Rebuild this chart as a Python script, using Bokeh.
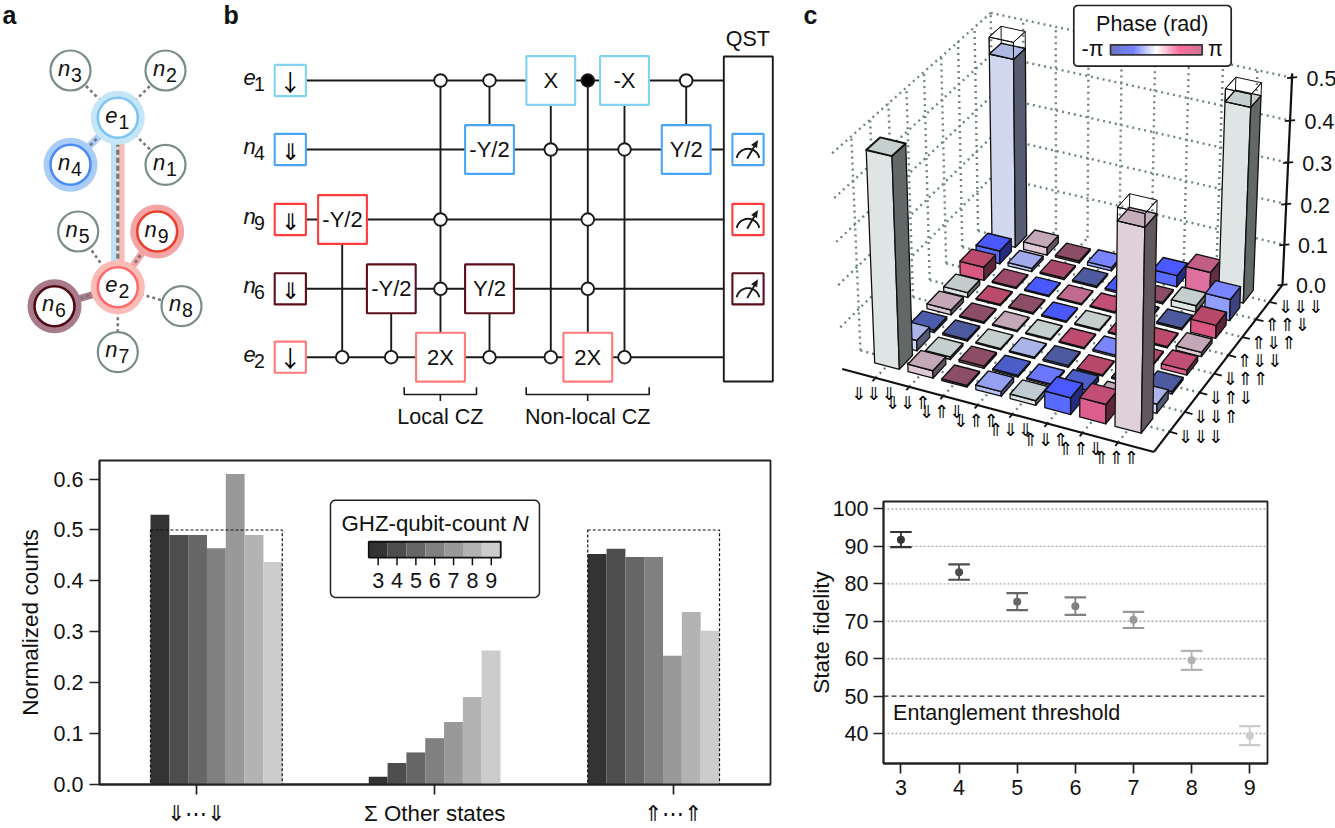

import numpy as np
from bokeh.embed import file_html
from bokeh.resources import INLINE
from bokeh.plotting import figure
from bokeh.layouts import row, column
from bokeh.models import ColumnDataSource, FixedTicker, Range1d
from bokeh.core.properties import value

FONT = "Liberation Sans"
ARROW_FONT = "Noto Sans CJK SC"
STATE_FONT = "DejaVu Sans"
# ---------------- data ----------------
N_VALUES = [3, 4, 5, 6, 7, 8, 9]
GRAYS = ["#333333", "#4d4d4d", "#666666", "#808080", "#999999", "#b3b3b3", "#cccccc"]
COUNTS_DOWN = [0.53, 0.49, 0.49, 0.464, 0.61, 0.49, 0.437]
COUNTS_OTHER = [0.015, 0.042, 0.063, 0.091, 0.123, 0.172, 0.263]
COUNTS_UP = [0.453, 0.463, 0.447, 0.447, 0.253, 0.339, 0.302]
COUNT_LABELS = {0: "⇓⋯⇓", 1: "Σ Other states", 2: "⇑⋯⇑"}
GROUP_LEFT = [-0.193, 0.723, 1.642]
BAR_W = 0.0790

FIDELITY = [91.8, 83.1, 75.2, 74.0, 70.4, 59.6, 39.4]
FID_HI = [93.85, 85.2, 77.5, 76.4, 72.5, 62.1, 42.0]
FID_LO = [89.8, 81.1, 73.0, 71.7, 68.2, 57.0, 36.9]
THRESHOLD = 50

# density matrix, row = back-axis index, column = front-axis index
RHO_H = [
 [.495,.018,.004,.011,.011,.040,.046,.470],
 [.025,.006,.005,.004,.004,.012,.005,.022],
 [.006,.004,.003,.003,.004,.003,.003,.006],
 [.012,.003,.003,.003,.003,.004,.003,.012],
 [.012,.003,.003,.003,.003,.003,.003,.010],
 [.033,.003,.003,.003,.003,.003,.004,.032],
 [.032,.008,.004,.004,.004,.004,.016,.052],
 [.460,.019,.005,.008,.004,.028,.056,.470],
]
RHO_PHASE = [
 [0.0, 1.0, 3.14,-0.9,-0.1,-1.9, 2.0, 0.9],
 [-.7, 0.0, 3.14,-2.4,-1.4,-2.4, 1.0,-0.7],
 [-2.9,-3.14,0.0,-0.7,-3.14,2.3,-3.14,-3.14],
 [1.0, 3.14,1.0, 0.0, 2.1,-1.2, 2.4, 2.0],
 [0.2, 2.2, 3.14,-1.9,0.0, 2.3, 2.2, 1.0],
 [2.2, 2.7,-1.9, 1.5, 2.0,-3.14,-3.14,2.3],
 [-1.9,-0.8,2.5,-3.14,-1.9,3.14,0.0,-1.2],
 [-0.6,1.0, 3.14,-1.2,2.2,-1.9, 1.7, 0.0],
]
IDEAL_H = {(0,7):.5,(7,0):.5,(7,7):.5}
X_STATES = ["⇓⇓⇓","⇓⇓⇑","⇓⇑⇓","⇓⇑⇑","⇑⇓⇓","⇑⇓⇑","⇑⇑⇓","⇑⇑⇑"]
Y_STATES = ["⇓⇓⇓","⇓⇓⇑","⇓⇑⇓","⇓⇑⇑","⇑⇓⇓","⇑⇓⇑","⇑⇑⇓","⇓⇓⇓"]
Z_TICKS = [0.0,0.1,0.2,0.3,0.4,0.5]
PH_ANCHORS = [-3.14,-2.4,-1.9,-1.2,-0.7,0,0.5,1.0,1.5,1.9,2.3,2.7,3.14]
PH_COLORS = ["#4e5aa0","#4c5cc8","#4a58ff","#7a84ff","#aab4e8","#c4cfce","#c4c4c8","#c4a8b8","#c06a90","#c45078","#b8486a","#9c4a6a","#8c4d66"]
BAR_CS = ["#5a66bc","#6472ff","#ffffff","#ff5c90","#c8648c"]

def rgb(h): return np.array([int(h[i:i+2],16) for i in (1,3,5)],float)
def hx(c): return "#%02x%02x%02x"%tuple(int(min(255,max(0,round(v)))) for v in c)
def ph_color(p):
    a=np.array([rgb(c) for c in PH_COLORS])
    return np.array([np.interp(p,PH_ANCHORS,a[:,k]) for k in range(3)])
def lighter(c): return np.where(c<180,c*1.2,c+(255-c)*.45)

def canvas(w,h,x0,y0):
    p=figure(width=w,height=h,x_range=Range1d(x0,x0+w),y_range=Range1d(y0+h,y0),
             x_axis_type=None,y_axis_type=None,toolbar_location=None,output_backend="svg",
             min_border=0,outline_line_color=None,frame_align=False)
    p.grid.visible=False
    return p
def T(p,x,y,s,size=21.5,italic=False,bold=False,align="center",font=FONT,color="#111111",angle=0):
    st="bold" if bold else ("italic" if italic else "normal")
    p.text([x],[y],text=[s],text_font=value(font),text_font_size=value(f"{size}px"),text_align=align,
           text_baseline="middle",text_font_style=st,text_color=color,angle=angle)
def rr(x0,y0,x1,y1,r=4):
    t=np.linspace(0,np.pi/2,6); xs=[];ys=[]
    for cx,cy,a in [(x1-r,y0+r,-np.pi/2),(x1-r,y1-r,0),(x0+r,y1-r,np.pi/2),(x0+r,y0+r,np.pi)]:
        xs+=list(cx+r*np.cos(t+a)); ys+=list(cy+r*np.sin(t+a))
    return xs,ys

# ================= panels a, b ==================
ab=canvas(800,438,0,0)
T(ab,2,14,"a",25,bold=True,align="left")
T(ab,223,14,"b",25,bold=True,align="left")
NODES={"n3":(70,70),"n2":(165,70),"n1":(165,164.3),"n4":(70,164.3),"n5":(77.7,231),"n9":(156.7,231),
       "n6":(54,305.7),"n8":(181,305.7),"n7":(117.3,351.7),"e1":(117.3,117.3),"e2":(117.3,286.7)}
HALO={"e1":("#c5e6f7","#7fc4f5"),"n4":("#a9cdf7","#4a8cf5"),"n9":("#f4a4a4","#e8402e"),"e2":("#fbbcb8","#ff6b6b"),"n6":("#a87a8c","#4d0b14")}
e1=NODES["e1"];e2=NODES["e2"]
ab.line([e1[0]-3.4]*2,[e1[1],e2[1]],line_color="#c0e0f5",line_width=6.8)
ab.line([e1[0]+3.4]*2,[e1[1],e2[1]],line_color="#f7bdb8",line_width=6.8)
for n,c,w in [("n4","#a9cdf7",7),("n9","#f4a4a4",7),("n6","#a87a8c",7)]:
    hub=e1 if n=="n4" else e2
    ab.line([hub[0],NODES[n][0]],[hub[1],NODES[n][1]],line_color=c,line_width=w)
ab.line([e1[0]]*2,[e1[1],e2[1]],line_color="#777777",line_width=3.2,line_dash="5 3")
for n,hub in [("n3",e1),("n2",e1),("n1",e1),("n4",e1),("n5",e2),("n9",e2),("n6",e2),("n8",e2),("n7",e2)]:
    ab.line([hub[0],NODES[n][0]],[hub[1],NODES[n][1]],line_color="#777777",line_width=2.6,line_dash="3 3")
for n,(x,y) in NODES.items():
    if n in HALO:
        ab.circle([x],[y],radius=27,fill_color=HALO[n][0],line_color=None)
        ab.circle([x],[y],radius=20,fill_color="white",line_color=HALO[n][1],line_width=2.6)
    else:
        ab.circle([x],[y],radius=20,fill_color="white",line_color="#7a8c88",line_width=2.2)
    T(ab,x-6.5,y-2.5,n[0],22,italic=True)
    T(ab,x+6,y+4,n[1],19.5)

WIRES={"e1":80,"n4":149,"n9":219,"n6":288.3,"e2":356.7}
WCOL={"e1":"#7fd4f0","n4":"#4aa5f5","n9":"#ff3b3b","n6":"#5c0f1c","e2":"#ff7a7a"}
INIT={"e1":"↓","n4":"⇓","n9":"⇓","n6":"⇓","e2":"↓"}
LW=1.9; K="#1a1a1a"
def vl(x,y0,y1): ab.line([x,x],[y0,y1],line_color=K,line_width=LW)
for w,y in WIRES.items():
    ab.line([305.7,723.3],[y,y],line_color=K,line_width=LW)
vl(341.7,219,356.7);vl(390.7,288,356.7);vl(440,80,357);vl(489,80,149);vl(489,288,356.7)
vl(550.3,80,356.7);vl(587.3,80,357);vl(624,80,356.7);vl(685.7,80,149)
def box(x,y,hw,c,s=None,size=22,font=FONT,color="#111111"):
    ab.quad(left=[x-hw],right=[x+hw],top=[y-hw],bottom=[y+hw],fill_color="white",line_color=c,line_width=2.1)
    if s: T(ab,x,y,s,size,font=font,color=color)
for w,y in WIRES.items():
    box(289.8,y,15.6,WCOL[w],INIT[w],23,font=ARROW_FONT,color="#000000")
    T(ab,249,y-3,w[0],22,italic=True); T(ab,259,y+3.5,w[1],19.5)
GATES=[(342,219,"n9","-Y/2"),(390.8,288.3,"n6","-Y/2"),(440,356.7,"e2","2X"),(489,149,"n4","-Y/2"),(489,288.3,"n6","Y/2"),
       (550.3,80,"e1","X"),(624,80,"e1","-X"),(587.3,356.7,"e2","2X"),(685.7,149,"n4","Y/2")]
for x,y,w,s in GATES: box(x,y,24.4,WCOL[w],s)
CTRL=[(341.7,356.7),(390.7,356.7),(489,356.7),(440,80),(489,80),(440,219),(440,288.3),(550.3,149),(550.3,356.7),
      (624,149),(624,356.7),(587.3,219),(587.3,288.3),(685.7,80)]
ab.circle([c[0] for c in CTRL],[c[1] for c in CTRL],radius=6.3,fill_color="white",line_color=K,line_width=1.9)
ab.circle([587.3],[80],radius=6.3,fill_color="black",line_color=K,line_width=1.9)
ab.quad(left=[723.3],right=[772.3],top=[56],bottom=[381],fill_color="white",line_color=K,line_width=LW)
T(ab,747.3,38,"QST")
th=np.linspace(np.pi*1.07,np.pi*1.93,24)
for w in ["n4","n9","n6"]:
    y=WIRES[w]; box(747.5,y,15.6,WCOL[w])
    ab.line(list(747.5+11.6*np.cos(th)),list(y+10.9+11.6*np.sin(th)),line_color=K,line_width=1.9)
    ab.line([746.7,755.5],[y+9.3,y-6],line_color=K,line_width=1.9)
    ab.patch([757.5,750.5,756.5],[y-9.5,y-4.5,y-1.5],fill_color=K,line_color=None)
for x0,x1,s in [(403.7,476,"Local CZ"),(525.7,648.7,"Non-local CZ")]:
    xc=(x0+x1)/2
    ab.line([x0,x0,x1,x1],[386.7,394,394,386.7],line_color=K,line_width=1.6)
    ab.line([xc,xc],[394,400.5],line_color=K,line_width=1.6)
    T(ab,xc,416.5,s)

# ================= panel d ==================
d=figure(width=800,height=390,x_range=Range1d(-0.407,2.409),y_range=Range1d(0,0.6365),toolbar_location=None,
         output_backend="svg",min_border_left=99,min_border_right=30,min_border_top=22,min_border_bottom=40,
         outline_line_color="#222222",outline_line_width=1.8,frame_align=False)
d.grid.visible=False
for ax,fs in ((d.xaxis[0],"22.3px"),(d.yaxis[0],"21.5px")):
    ax.major_label_text_font=FONT; ax.major_label_text_font_size=fs; ax.major_label_text_color="#111111"
    ax.major_tick_out=10; ax.major_tick_in=0; ax.minor_tick_out=0; ax.minor_tick_in=0
    ax.major_tick_line_width=1.7; ax.major_tick_line_color="#222222"; ax.axis_line_width=1.8; ax.axis_line_color="#222222"
d.yaxis.ticker=FixedTicker(ticks=[0,.1,.2,.3,.4,.5,.6])
d.yaxis.major_label_overrides={0:"0.0"}
d.xaxis.ticker=FixedTicker(ticks=[0,1,2])
d.xaxis.major_label_overrides=COUNT_LABELS
d.yaxis.axis_label="Normalized counts"; d.yaxis.axis_label_text_font=FONT; d.yaxis.axis_label_text_font_size="22.5px"
d.yaxis.axis_label_text_font_style="normal"; d.yaxis.axis_label_text_color="#111111"; d.yaxis.axis_label_standoff=8
d.yaxis.major_label_standoff=6; d.xaxis.major_label_standoff=6
for left,vals in zip(GROUP_LEFT,[COUNTS_DOWN,COUNTS_OTHER,COUNTS_UP]):
    l=[left+k*BAR_W for k in range(7)]
    d.quad(left=l,right=[v+BAR_W for v in l],bottom=0,top=vals,fill_color=GRAYS,line_color=None)
for i in (0,2):
    d.quad(left=[GROUP_LEFT[i]],right=[GROUP_LEFT[i]+7*BAR_W],bottom=[0],top=[0.5],fill_color=None,line_color="#111111",line_width=1.2,line_dash="3 2")
def dx(px): return (px-196)/238.3
def dy(py): return (788.3-py)/515.0
xs,ys=rr(330,500.7,539,599,5)
d.patch([dx(v) for v in xs],[dy(v) for v in ys],fill_color="white",line_color="#222222",line_width=1.5)
T(d,dx(341),dy(524),"GHZ-qubit-count ",22.3,align="left")
T(d,dx(512),dy(524),"N",22.3,italic=True,align="left")
cl=[368.3+18.85*k for k in range(7)]
d.quad(left=[dx(v) for v in cl],right=[dx(v+18.85) for v in cl],top=dy(542.7),bottom=dy(558.7),fill_color=GRAYS,line_color=None)
d.quad(left=[dx(368.3)],right=[dx(500.3)],top=[dy(542.7)],bottom=[dy(558.7)],fill_color=None,line_color="#111111",line_width=1.8)
for k,n in enumerate(N_VALUES):
    x=cl[k]+9.4
    d.line([dx(x)]*2,[dy(558.7),dy(566.5)],line_color="#111111",line_width=1.5)
    T(d,dx(x),dy(581.5),str(n),21.5)
T(d,dx(2),dy(452),"d",25,bold=True,align="left",color="black")

# ================= panel c ==================
c=canvas(535,470,800,0)
T(c,803,14,"c",25,bold=True,align="left")
PTS=[((0,0,0),(843,372)),((9,0,0),(1153,452.7)),((9,9,0),(1281.7,285.7)),((0,9,0),(994,216)),
     ((0,0,.5),(833,155)),((0,9,.5),(991,16)),((9,9,.5),(1290,77.7)),
     ((.63,.63,0),(873,360)),((1.37,.63,0),(898,368)),((1.37,1.37,0),(911,353)),
     ((7.63,.63,0),(1115,425)),((8.37,.63,0),(1141.7,431.7)),
     ((7.63,.63,.47),(1116.7,220)),((8.37,.63,.47),(1145,227)),
     ((.63,7.63,.46),(988,50)),((1.37,7.63,.46),(1013,55)),
     ((7.63,7.63,.47),(1225,101)),((8.37,7.63,.47),(1251,107)),
     ((.63,.63,.495),(865,150)),((1.37,.63,.495),(890.7,156))]
A=[];bv=[]
for (u,v,z),(x,y) in PTS:
    A.append([u,v,z,1,0,0,0,0,-x*u,-x*v,-x*z]);bv.append(x)
    A.append([0,0,0,0,u,v,z,1,-y*u,-y*v,-y*z]);bv.append(y)
m=np.linalg.lstsq(np.array(A,float),np.array(bv,float),rcond=None)[0]
M=np.append(m,1).reshape(3,4)
def P(u,v,z=0):
    w=M@np.array([u,v,z,1.0]); return w[0]/w[2],w[1]/w[2]
GD=dict(line_color="#6f8682",line_width=2.4,line_dash="2 4")
def seg(p,a,b,**k):
    A_=P(*a);B_=P(*b); p.line([A_[0],B_[0]],[A_[1],B_[1]],**k)
for k in range(1,9):
    seg(c,(k,0,0),(k,9,0),**GD); seg(c,(0,k,0),(9,k,0),**GD)
    seg(c,(0,k,0),(0,k,.5),**GD); seg(c,(k,9,0),(k,9,.5),**GD)
seg(c,(0,9,0),(0,9,.5),**GD)
for z in Z_TICKS[1:]:
    seg(c,(0,0,z),(0,9,z),**GD); seg(c,(0,9,z),(9,9,z),**GD)
AX=dict(line_color="#111111",line_width=2.2)
seg(c,(0,0,0),(9,0,0),**AX); seg(c,(9,0,0),(9,9,0),**AX); seg(c,(9,9,0),(9,9,.51),**AX)
for k in range(1,9):
    a=P(k,0);b=P(k,-.17)
    c.line([a[0],b[0]],[a[1],b[1]],line_color="#111111",line_width=1.8)
    a=P(9,k);b=P(9.22,k)
    c.line([a[0],b[0]],[a[1],b[1]],line_color="#111111",line_width=1.8)
    xa=P(k,0);T(c,xa[0]-2,xa[1]+15.5,X_STATES[k-1],18,font=STATE_FONT,color="#000000")
    ya=P(9,k);T(c,ya[0]+31,ya[1]+5,Y_STATES[k-1],18,font=STATE_FONT,color="#000000")
for z in Z_TICKS:
    a=P(9,9,z)
    c.line([a[0]-5,a[0]+5],[a[1]+.5,a[1]-.5],line_color="#111111",line_width=1.8)
    T(c,a[0]+28.5+z*2,a[1]+1,f"{z:.1f}")
HW=0.37
F=dict(xs=[],ys=[],fill=[],alpha=[],lw=[])
def face(pts,col,alpha=1,lw=1.3):
    q=[P(*t) for t in pts]
    F["xs"].append([a[0] for a in q]);F["ys"].append([a[1] for a in q]);F["fill"].append(col);F["alpha"].append(alpha);F["lw"].append(lw)
for j in range(7,-1,-1):
    for i in range(8):
        h=RHO_H[j][i];ph=RHO_PHASE[j][i];base=ph_color(ph)
        u0,u1=i+1-HW,i+1+HW;v0,v1=j+1-HW,j+1+HW
        face([(u0,v0,0),(u1,v0,0),(u1,v0,h),(u0,v0,h)],hx(lighter(base)))
        face([(u1,v0,0),(u1,v1,0),(u1,v1,h),(u1,v0,h)],hx(base*.5))
        face([(u0,v0,h),(u1,v0,h),(u1,v1,h),(u0,v1,h)],hx(base),lw=1.9 if h>.3 and (i,j)==(0,0) else 1.4)
        if (i,j) in IDEAL_H:
            t=IDEAL_H[(i,j)]
            face([(u0,v0,h),(u1,v0,h),(u1,v0,t),(u0,v0,t)],"#ffffff",0,1)
            face([(u1,v0,h),(u1,v1,h),(u1,v1,t),(u1,v0,t)],"#ffffff",0,1)
            face([(u0,v0,t),(u1,v0,t),(u1,v1,t),(u0,v1,t)],"#ffffff",0,1)
            face([(u0,v1,h),(u0,v1,t),(u0,v0,t),(u0,v0,h)],"#ffffff",0,1)
src=ColumnDataSource(F)
c.patches("xs","ys",source=src,fill_color="fill",fill_alpha="alpha",line_color="#111111",line_width="lw",line_join="round")
xs,ys=rr(1073.3,5,1230.7,65.7,4)
c.patch(xs,ys,fill_color="white",line_color="#222222",line_width=1.7)
T(c,1151.7,23,"Phase (rad)")
nseg=92
gx=np.linspace(1110,1201.7,nseg+1)
ga=np.array([rgb(v) for v in BAR_CS]); gp=np.linspace(0,1,5)
gc=[hx([np.interp((k+.5)/nseg,gp,ga[:,q]) for q in range(3)]) for k in range(nseg)]
c.quad(left=gx[:-1],right=gx[1:]+.3,top=44.3,bottom=54.3,fill_color=gc,line_color=None)
c.quad(left=[1110],right=[1201.7],top=[44.3],bottom=[54.3],fill_color=None,line_color="#333333",line_width=1.7)
T(c,1092,48,"-π",21.5); T(c,1215,48,"π",21.5)

# ================= panel e ==================
e=figure(width=535,height=358,x_range=Range1d(2.7,9.305),y_range=Range1d(32,102),toolbar_location=None,
         output_backend="svg",min_border_left=83,min_border_right=68,min_border_top=31,min_border_bottom=65,
         outline_line_color="#222222",outline_line_width=1.8,frame_align=False)
e.grid.visible=False
for ax in (e.xaxis[0],e.yaxis[0]):
    ax.major_label_text_font=FONT; ax.major_label_text_font_size="21.5px"; ax.major_label_text_color="#111111"
    ax.major_tick_out=10; ax.major_tick_in=0; ax.minor_tick_out=0; ax.minor_tick_in=0
    ax.major_tick_line_width=1.7; ax.major_tick_line_color="#222222"; ax.axis_line_width=1.8; ax.axis_line_color="#222222"
e.xaxis.ticker=FixedTicker(ticks=N_VALUES)
e.yaxis.ticker=FixedTicker(ticks=[40,50,60,70,80,90,100])
e.yaxis.axis_label="State fidelity"; e.yaxis.axis_label_text_font=FONT; e.yaxis.axis_label_text_font_size="22.5px"
e.yaxis.axis_label_text_font_style="normal"; e.yaxis.axis_label_text_color="#111111"; e.yaxis.axis_label_standoff=-4
e.yaxis.major_label_standoff=5; e.xaxis.major_label_standoff=6
for yv in [40,60,70,80,90,100]:
    e.line([2.7,9.305],[yv,yv],line_color="#aaaaaa",line_width=1.4,line_dash="2 2")
e.line([2.7,9.305],[THRESHOLD]*2,line_color="#222222",line_width=1.4,line_dash="5 3")
capw=0.185
for n,f,hi,lo,g in zip(N_VALUES,FIDELITY,FID_HI,FID_LO,GRAYS):
    e.line([n,n],[lo,hi],line_color=g,line_width=1.8)
    e.line([n-capw,n+capw],[hi,hi],line_color=g,line_width=2.2)
    e.line([n-capw,n+capw],[lo,lo],line_color=g,line_width=2.2)
    e.scatter([n],[f],size=8,fill_color=g,line_color=g,line_width=0)
T(e,2.865,45.5,"Entanglement threshold",21.5,align="left")
ex=lambda px:3+(px-900.7)/58.05
ey=lambda py:100-(py-508.3)/3.74
T(e,ex(803),ey(487),"e",25,bold=True,align="left",color="black")

root=row(column(ab,d),column(c,e))
open("out.html","w").write(file_html(root,INLINE))
